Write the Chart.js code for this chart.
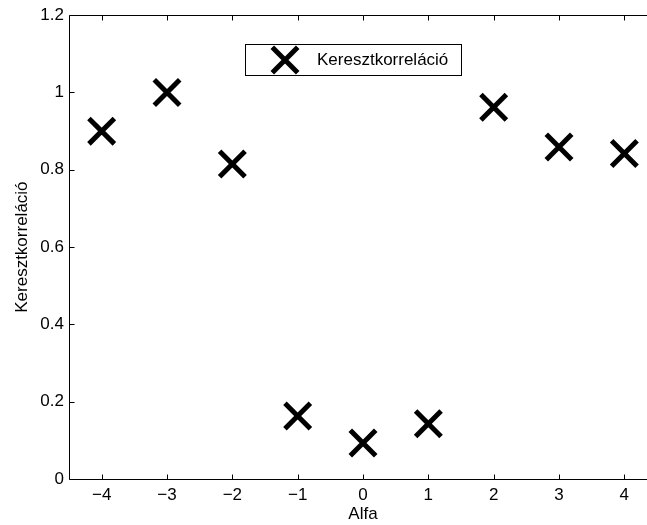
<!DOCTYPE html>
<html>
<head>
<meta charset="utf-8">
<script src="https://cdn.jsdelivr.net/npm/chart.js@4/dist/chart.umd.min.js"></script>
<style>
  html, body { margin: 0; padding: 0; background: #fff; overflow: hidden; }
  #wrap { width: 647px; height: 525px; overflow: hidden; position: relative; }
  #c { position: absolute; left: 0; top: 0; }
</style>
</head>
<body>
<div id="wrap"><canvas id="c" width="700" height="525"></canvas></div>
<script>
const alfa = [-4, -3, -2, -1, 0, 1, 2, 3, 4];
const keresztkorrelacio = [0.90, 1.00, 0.815, 0.163, 0.093, 0.143, 0.962, 0.859, 0.842];
const xTicks = [-4, -3, -2, -1, 0, 1, 2, 3, 4];
const yTicks = [0, 0.2, 0.4, 0.6, 0.8, 1, 1.2];
const seriesLabel = 'Keresztkorreláció';
const xTitle = 'Alfa';
const yTitle = 'Keresztkorreláció';

const FONT = 'Liberation Sans, Arial, Helvetica, sans-serif';

const framePlugin = {
  id: 'frame',
  afterDraw(chart) {
    const ctx = chart.ctx;
    const a = chart.chartArea;
    const xs = chart.scales.x, ys = chart.scales.y;
    ctx.save();
    ctx.strokeStyle = '#000';
    ctx.lineWidth = 1;
    ctx.beginPath();
    const L = Math.round(a.left) + 0.5, R = Math.round(a.right) + 0.5;
    const T = Math.round(a.top) + 0.5, B = Math.round(a.bottom) + 0.5;
    ctx.rect(L, T, R - L, B - T);
    const tl = 5;
    xTicks.forEach(v => {
      const px = Math.round(xs.getPixelForValue(v)) + 0.5;
      ctx.moveTo(px, B); ctx.lineTo(px, B - tl);
      ctx.moveTo(px, T); ctx.lineTo(px, T + tl);
    });
    yTicks.forEach(v => {
      const py = Math.round(ys.getPixelForValue(v)) + 0.5;
      ctx.moveTo(L, py); ctx.lineTo(L + tl, py);
      ctx.moveTo(R, py); ctx.lineTo(R - tl, py);
    });
    ctx.stroke();

    // legend box
    const bx = 245.5, by = 44.5, bw = 216, bh = 31;
    ctx.fillStyle = '#fff';
    ctx.fillRect(bx, by, bw, bh);
    ctx.strokeRect(bx, by, bw, bh);
    const ds = chart.data.datasets[0];
    ctx.lineWidth = ds.pointBorderWidth;
    ctx.strokeStyle = '#000';
    ctx.fillStyle = '#000';
    Chart.helpers.drawPoint(ctx, {
      pointStyle: 'crossRot', radius: ds.pointRadius, rotation: 0,
      borderWidth: ds.pointBorderWidth
    }, 285, 60);
    ctx.font = '17px ' + FONT;
    ctx.textBaseline = 'middle';
    ctx.textAlign = 'left';
    ctx.fillText(ds.label, 317, 60);
    ctx.restore();
  }
};

new Chart(document.getElementById('c'), {
  type: 'scatter',
  data: {
    datasets: [{
      label: seriesLabel,
      data: alfa.map((x, i) => ({ x: x, y: keresztkorrelacio[i] })),
      pointStyle: 'crossRot',
      pointRadius: 18,
      pointHoverRadius: 18,
      borderWidth: 5,
      pointBorderWidth: 5,
      borderColor: '#000',
      backgroundColor: '#000'
    }]
  },
  options: {
    responsive: false,
    animation: false,
    events: [],
    layout: { autoPadding: false, padding: { left: 0, right: 43, top: 15, bottom: 0 } },
    plugins: { legend: { display: false }, tooltip: { enabled: false } },
    scales: {
      x: {
        type: 'linear', min: -4.5, max: 4.5,
        afterBuildTicks: s => { s.ticks = xTicks.map(v => ({ value: v })); },
        afterFit: s => { s.height = 46; },
        grid: { display: false, drawTicks: false },
        border: { display: false },
        ticks: {
          padding: 6, color: '#000', font: { family: FONT, size: 17 },
          maxRotation: 0, autoSkip: false,
          callback: v => String(v).replace('-', '\u2212')
        },
        title: { display: true, text: xTitle, color: '#000', font: { family: FONT, size: 17 }, padding: { top: 0, bottom: 0 } }
      },
      y: {
        type: 'linear', min: 0, max: 1.2,
        afterBuildTicks: s => { s.ticks = yTicks.map(v => ({ value: v })); },
        afterFit: s => { s.width = 69; },
        grid: { display: false, drawTicks: false },
        border: { display: false },
        ticks: {
          padding: 5, color: '#000', font: { family: FONT, size: 17 }, autoSkip: false,
          callback: v => String(parseFloat(Number(v).toFixed(1)))
        },
        title: { display: true, text: yTitle, color: '#000', font: { family: FONT, size: 17 }, padding: { top: 12, bottom: 0 } }
      }
    }
  },
  plugins: [framePlugin]
});
</script>
</body>
</html>
